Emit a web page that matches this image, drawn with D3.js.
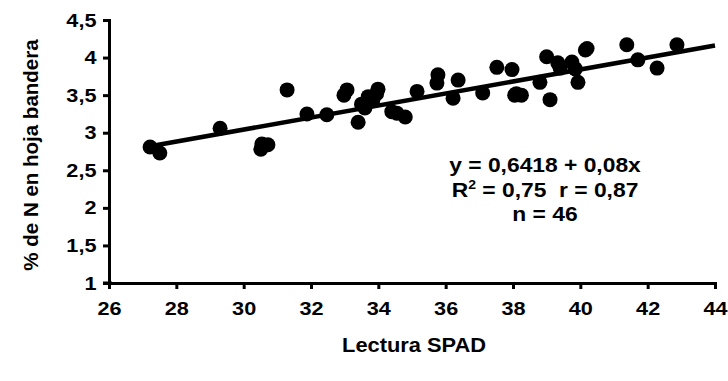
<!DOCTYPE html>
<html><head><meta charset="utf-8">
<script src="https://cdn.jsdelivr.net/npm/d3@7"></script>
<style>body{margin:0;background:#fff}svg{display:block}text{font-family:"Liberation Sans",Arial,sans-serif;font-weight:bold;fill:#000}</style>
</head><body><svg id="c" width="728" height="381"></svg>
<script>
const spad = [27.22,27.51,29.30,31.29,31.88,32.47,30.51,30.54,30.72,33.07,32.98,33.40,33.60,33.70,33.99,33.84,34.40,34.80,34.55,35.15,35.77,35.74,36.22,36.37,37.10,37.52,37.97,38.05,38.25,38.80,39.00,39.33,39.40,39.10,39.75,39.93,40.20,41.38,41.71,42.28,42.87,33.50,39.85,40.15,33.95,38.10];
const nitro = [2.81,2.73,3.06,3.57,3.25,3.24,2.78,2.85,2.84,3.57,3.50,3.14,3.33,3.48,3.58,3.44,3.28,3.21,3.26,3.55,3.77,3.66,3.46,3.70,3.53,3.87,3.84,3.50,3.50,3.67,4.01,3.93,3.86,3.44,3.94,3.67,4.12,4.17,3.97,3.86,4.17,3.38,3.85,4.10,3.52,3.52];
const xTicks = [26,28,30,32,34,36,38,40,42,44];
const yTicks = [1,1.5,2,2.5,3,3.5,4,4.5];
const intercept = 0.6418, slope = 0.08;
const statLines = ["y = 0,6418 + 0,08x", "R2 = 0,75  r = 0,87", "n = 46"];

const svg = d3.select("#c");
const x = d3.scaleLinear().domain([26,44]).range([109,715]);
const y = d3.scaleLinear().domain([1,4.5]).range([283,20]);
const fmt = d => String(d).replace(".", ",");
const FF = "Liberation Sans, Arial, sans-serif";

const gx = svg.append("g").attr("transform","translate(0,283)")
  .call(d3.axisBottom(x).tickValues(xTicks).tickSize(6).tickPadding(13).tickFormat(fmt));
const gy = svg.append("g").attr("transform","translate(109,0)")
  .call(d3.axisLeft(y).tickValues(yTicks).tickSize(6).tickPadding(5).tickFormat(fmt));
[gx,gy].forEach(g=>{
  g.select(".domain").attr("stroke","#000").attr("stroke-width",3);
  g.selectAll(".tick line").attr("stroke","#000").attr("stroke-width",3);
  g.selectAll("text").style("font-size","19px").style("font-family",FF).style("font-weight","bold")
    .attr("fill","#000").attr("transform","scale(1.14,1)");
});
svg.append("line").attr("x1",x(26)-6).attr("x2",x(26)+3).attr("y1",y(1)).attr("y2",y(1)).attr("stroke","#000").attr("stroke-width",3);

// regression line
const x0 = d3.min(spad), x1 = 44;
svg.append("line").attr("x1",x(x0)).attr("y1",y(intercept+slope*x0))
  .attr("x2",x(x1)).attr("y2",y(intercept+slope*x1))
  .attr("stroke","#000").attr("stroke-width",4.5);

svg.append("g").selectAll("circle").data(spad.map((d,i)=>[d,nitro[i]])).join("circle")
  .attr("cx",d=>x(d[0])).attr("cy",d=>y(d[1])).attr("r",7.5).attr("fill","#000");

// stats text
const st = svg.append("g").attr("transform","translate(545,0) scale(1.17,1)").attr("text-anchor","middle").style("font-size","19.5px");
st.append("text").attr("x",0).attr("y",172).text(statLines[0]);
const t2 = st.append("text").attr("x",0).attr("y",197);
t2.append("tspan").text("R");
t2.append("tspan").attr("dy",-8).style("font-size","12px").text("2");
t2.append("tspan").attr("dy",8).text(" = 0,75\u00a0\u00a0r = 0,87");
st.append("text").attr("x",0).attr("y",221).text(statLines[2]);

svg.append("text").attr("transform","translate(414,352) scale(1.12,1)").attr("text-anchor","middle").style("font-size","19.5px").text("Lectura SPAD");
svg.append("text").attr("transform","translate(38,155) rotate(-90)").attr("text-anchor","middle").style("font-size","20.5px").text("% de N en hoja bandera");
</script></body></html>
